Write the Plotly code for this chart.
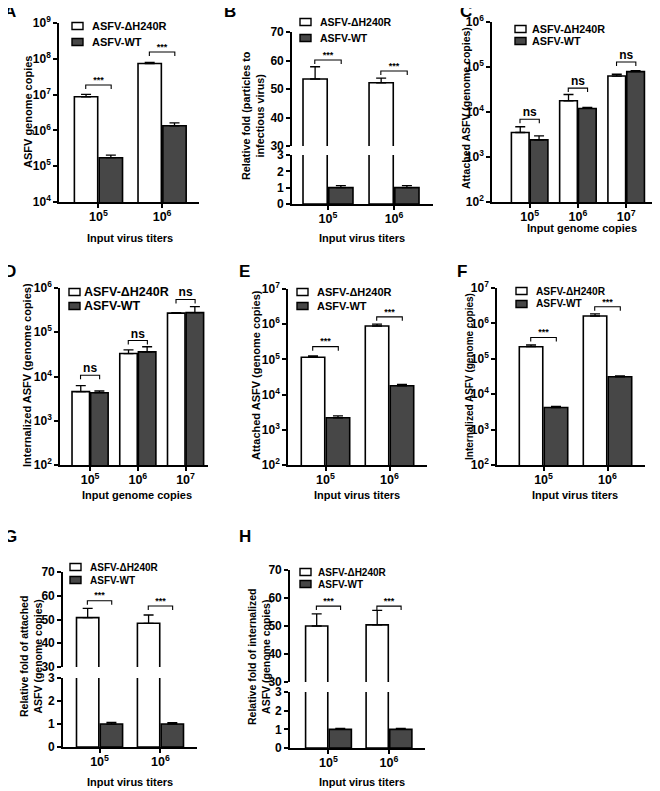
import math
import plotly.graph_objects as go

W, H = 660, 791
OFF = 8  # page body margin in front of the figure

SERIES = ["ASFV-ΔH240R", "ASFV-WT"]
TITERS_2 = ["10<sup>5</sup>", "10<sup>6</sup>"]
TITERS_3 = ["10<sup>5</sup>", "10<sup>6</sup>", "10<sup>7</sup>"]

# A  ASFV genome copies
A_MUT, A_MUT_TOP = [8.7e6, 7.4e7], [1.02e7, 7.9e7]
A_WT, A_WT_TOP = [1.73e5, 1.35e6], [2.04e5, 1.62e6]
A_SIG_Y, A_SIG = [1.86e7, 1.55e8], ["***", "***"]

# B  relative fold, particles to infectious virus
B_MUT, B_MUT_TOP = [53.5, 52.2], [57.8, 53.8]
B_WT, B_WT_TOP = [1.0, 1.0], [1.13, 1.13]
B_SIG_Y, B_SIG = [60.2, 56.3], ["***", "***"]

# C  attached ASFV, input genome copies
C_MUT, C_MUT_TOP = [3.5e3, 1.78e4, 6.3e4], [4.7e3, 2.45e4, 6.9e4]
C_WT, C_WT_TOP = [2.4e3, 1.2e4, 7.9e4], [2.95e3, 1.26e4, 8.3e4]
C_SIG_Y, C_SIG = [6.9e3, 3.4e4, 1.29e5], ["ns", "ns", "ns"]

# D  internalized ASFV, input genome copies
D_MUT, D_MUT_TOP = [4.55e3, 3.3e4, 2.7e5], [6.2e3, 4.0e4, 2.78e5]
D_WT, D_WT_TOP = [4.3e3, 3.6e4, 2.78e5], [4.7e3, 4.7e4, 3.8e5]
D_SIG_Y, D_SIG = [1.07e4, 6.5e4, 5.5e5], ["ns", "ns", "ns"]

# E  attached ASFV, input virus titers
E_MUT, E_MUT_TOP = [1.15e5, 8.9e5], [1.26e5, 1.0e6]
E_WT, E_WT_TOP = [2.2e3, 1.78e4], [2.5e3, 1.94e4]
E_SIG_Y, E_SIG = [2.3e5, 1.62e6], ["***", "***"]

# F  internalized ASFV, input virus titers
F_MUT, F_MUT_TOP = [2.2e5, 1.62e6], [2.45e5, 1.85e6]
F_WT, F_WT_TOP = [4.2e3, 3.1e4], [4.5e3, 3.3e4]
F_SIG_Y, F_SIG = [4.0e5, 2.95e6], ["***", "***"]

# G  relative fold of attached ASFV
G_MUT, G_MUT_TOP = [50.8, 48.4], [54.7, 51.9]
G_WT, G_WT_TOP = [1.0, 1.0], [1.07, 1.06]
G_SIG_Y, G_SIG = [57.9, 55.7], ["***", "***"]

# H  relative fold of internalized ASFV
H_MUT, H_MUT_TOP = [50.0, 50.4], [54.3, 55.6]
H_WT, H_WT_TOP = [1.0, 1.0], [1.05, 1.05]
H_SIG_Y, H_SIG = [57.1, 57.1], ["***", "***"]

FONT = "Liberation Sans, Arial, sans-serif"
DARK = "#474747"
LW = 1.6

# panel geometry in page pixels; leg = (swatch left, row1 y, row2 y, text x, font size)
PANELS = [
    dict(key="A", cats=TITERS_2, mut=A_MUT, mut_top=A_MUT_TOP, wt=A_WT, wt_top=A_WT_TOP,
         sig_y=A_SIG_Y, sig=A_SIG, xpx=(59, 199), xr=(-0.62, 1.58),
         parts=[dict(ypx=(23, 202), log=True, yr=(4, 9))],
         ytitle="ASFV genome copies", ytpos=(28, 112, 11),
         xtitle="Input virus titers", xtpos=(130, 238),
         letter=(2, 11), leg=(72, 26, 42, 90, 11)),
    dict(key="B", cats=TITERS_2, mut=B_MUT, mut_top=B_MUT_TOP, wt=B_WT, wt_top=B_WT_TOP,
         sig_y=B_SIG_Y, sig=B_SIG, xpx=(292, 433), xr=(-0.545, 1.59),
         parts=[dict(ypx=(155, 204), log=False, yr=(0, 3), ticks=[0, 1, 2, 3]),
                dict(ypx=(32, 146), log=False, yr=(30, 70), ticks=[30, 40, 50, 60, 70])],
         ytitle="Relative fold (particles to<br>infectious virus)", ytpos=(253, 116, 10.8),
         xtitle="Input virus titers", xtpos=(362, 238),
         letter=(222, 11), leg=(300, 22, 38, 318, 10.5)),
    dict(key="C", cats=TITERS_3, mut=C_MUT, mut_top=C_MUT_TOP, wt=C_WT, wt_top=C_WT_TOP,
         sig_y=C_SIG_Y, sig=C_SIG, xpx=(492, 659), xr=(-0.78, 2.68),
         parts=[dict(ypx=(22, 202), log=True, yr=(2, 6))],
         ytitle="Attached ASFV (genome copies)", ytpos=(466, 108, 10.5),
         xtitle="Input genome copies", xtpos=(582, 228),
         letter=(458, 11), leg=(515, 29, 41, 530, 10.8)),
    dict(key="D", cats=TITERS_3, mut=D_MUT, mut_top=D_MUT_TOP, wt=D_WT, wt_top=D_WT_TOP,
         sig_y=D_SIG_Y, sig=D_SIG, xpx=(60, 208), xr=(-0.63, 2.47),
         parts=[dict(ypx=(288, 465), log=True, yr=(2, 6))],
         ytitle="Internalized ASFV (genome copies)", ytpos=(27, 375, 11),
         xtitle="Input genome copies", xtpos=(137, 495),
         letter=(2, 271), leg=(69, 292, 306, 82, 12.5)),
    dict(key="E", cats=TITERS_2, mut=E_MUT, mut_top=E_MUT_TOP, wt=E_WT, wt_top=E_WT_TOP,
         sig_y=E_SIG_Y, sig=E_SIG, xpx=(288, 427), xr=(-0.586, 1.586),
         parts=[dict(ypx=(289, 465), log=True, yr=(2, 7))],
         ytitle="Attached ASFV (genome copies)", ytpos=(256, 375, 11),
         xtitle="Input virus titers", xtpos=(357, 495),
         letter=(237, 271), leg=(297, 292, 306, 315, 11)),
    dict(key="F", cats=TITERS_2, mut=F_MUT, mut_top=F_MUT_TOP, wt=F_WT, wt_top=F_WT_TOP,
         sig_y=F_SIG_Y, sig=F_SIG, xpx=(497, 645), xr=(-0.727, 1.586),
         parts=[dict(ypx=(288, 465), log=True, yr=(2, 7))],
         ytitle="Internalized ASFV (genome copies)", ytpos=(469, 377, 10),
         xtitle="Input virus titers", xtpos=(575, 495),
         letter=(455, 271), leg=(516, 291, 304, 534, 10.2)),
    dict(key="G", cats=TITERS_2, mut=G_MUT, mut_top=G_MUT_TOP, wt=G_WT, wt_top=G_WT_TOP,
         sig_y=G_SIG_Y, sig=G_SIG, xpx=(63, 197), xr=(-0.6, 1.6),
         parts=[dict(ypx=(678, 747), log=False, yr=(0, 3), ticks=[0, 1, 2, 3]),
                dict(ypx=(572, 667), log=False, yr=(30, 70), ticks=[30, 40, 50, 60, 70])],
         ytitle="Relative fold of attached<br>ASFV (genome copies)", ytpos=(31, 657, 10.5),
         xtitle="Input virus titers", xtpos=(130, 782),
         letter=(2, 536), leg=(70, 567, 580, 88, 10)),
    dict(key="H", cats=TITERS_2, mut=H_MUT, mut_top=H_MUT_TOP, wt=H_WT, wt_top=H_WT_TOP,
         sig_y=H_SIG_Y, sig=H_SIG, xpx=(290, 425), xr=(-0.636, 1.595),
         parts=[dict(ypx=(692, 748), log=False, yr=(0, 3), ticks=[0, 1, 2, 3]),
                dict(ypx=(570, 682), log=False, yr=(30, 70), ticks=[30, 40, 50, 60, 70])],
         ytitle="Relative fold of internalized<br>ASFV (genome copies)", ytpos=(259, 657, 10.5),
         xtitle="Input virus titers", xtpos=(362, 782),
         letter=(237, 536), leg=(300, 572, 584, 316, 10)),
]

HALF = 0.2  # bracket half-span around a group centre (x units)
LEG_PX = 4  # bracket leg length in pixels

FW, FH = W - OFF, H - OFF


def fx(px):
    return (px - OFF) / FW


def fy(py):
    return 1 - (py - OFF) / FH


def bold(size):
    return dict(family=FONT, size=size, color="black", weight="bold")


fig = go.Figure()
layout = {}
annotations = []
shapes = []
n = 0

for p in PANELS:
    xs = list(range(len(p["cats"])))
    for si, part in enumerate(p["parts"]):
        n += 1
        sfx = "" if n == 1 else str(n)
        bottom = si == 0
        ytop, ybot = part["ypx"]
        xa = dict(domain=[fx(p["xpx"][0]), fx(p["xpx"][1])], range=list(p["xr"]),
                  anchor="y" + sfx, showgrid=False, zeroline=False, fixedrange=True,
                  automargin=False)
        if bottom:
            xa.update(showline=True, linecolor="black", linewidth=LW, ticks="outside",
                      ticklen=4, tickwidth=LW, tickcolor="black", ticklabelstandoff=-2,
                      tickvals=xs, ticktext=p["cats"], tickfont=bold(12.5))
        else:
            xa.update(visible=False)
        ya = dict(domain=[fy(ybot), fy(ytop)], anchor="x" + sfx, range=list(part["yr"]),
                  showgrid=False, zeroline=False, showline=True, linecolor="black",
                  linewidth=LW, ticks="outside", ticklen=4, tickwidth=LW, tickcolor="black",
                  tickfont=bold(12), fixedrange=True, automargin=False)
        if part["log"]:
            lo, hi = part["yr"]
            ya.update(type="log", tickvals=[10 ** k for k in range(lo, hi + 1)],
                      ticktext=[f"10<sup>{k}</sup>" for k in range(lo, hi + 1)])
        else:
            ya.update(tickvals=part["ticks"], ticktext=[str(t) for t in part["ticks"]])
        layout["xaxis" + sfx] = xa
        layout["yaxis" + sfx] = ya

        for name, vals, tops, fill in ((SERIES[0], p["mut"], p["mut_top"], "white"),
                                        (SERIES[1], p["wt"], p["wt_top"], DARK)):
            fig.add_trace(go.Bar(
                x=xs, y=vals, name=name, xaxis="x" + sfx, yaxis="y" + sfx,
                marker=dict(color=fill, line=dict(color="black", width=LW)),
                error_y=dict(type="data", symmetric=False,
                             array=[t - v for t, v in zip(tops, vals)],
                             arrayminus=[0] * len(vals),
                             color="black", thickness=1.3, width=5),
                showlegend=False,
            ))

        # significance brackets live on the top segment
        if si == len(p["parts"]) - 1:
            lo, hi = part["yr"]
            per_px = (hi - lo) / (ybot - ytop)
            for g, (yb, lab) in enumerate(zip(p["sig_y"], p["sig"])):
                if part["log"]:
                    foot = 10 ** (math.log10(yb) - LEG_PX * per_px)
                else:
                    foot = yb - LEG_PX * per_px
                fig.add_trace(go.Scatter(
                    x=[g - HALF, g - HALF, g + HALF, g + HALF], y=[foot, yb, yb, foot],
                    mode="lines", line=dict(color="black", width=1.1),
                    xaxis="x" + sfx, yaxis="y" + sfx, showlegend=False, hoverinfo="skip",
                ))
                small = lab == "***"
                fig.add_trace(go.Scatter(
                    x=[g], y=[yb], mode="text", text=[lab], textposition="top center",
                    textfont=bold(9 if small else 12),
                    xaxis="x" + sfx, yaxis="y" + sfx, showlegend=False, hoverinfo="skip",
                ))

    # legend: open / filled swatch + label
    sx, r1, r2, tx, fs = p["leg"]
    for row_y, name, fill in ((r1, SERIES[0], "white"), (r2, SERIES[1], DARK)):
        shapes.append(dict(type="rect", xref="paper", yref="paper",
                           x0=fx(sx), x1=fx(sx + 11), y0=fy(row_y + 3.5), y1=fy(row_y - 3.5),
                           fillcolor=fill, line=dict(color="black", width=1.4)))
        annotations.append(dict(text=name, x=fx(tx), y=fy(row_y), xref="paper", yref="paper",
                                showarrow=False, xanchor="left", yanchor="middle",
                                font=bold(fs)))

    tx_, ty_, tfs = p["ytpos"]
    annotations.append(dict(
        text=p["ytitle"], x=fx(tx_), y=fy(ty_), xref="paper", yref="paper",
        textangle=-90, showarrow=False, xanchor="center", yanchor="middle", font=bold(tfs),
    ))
    annotations.append(dict(
        text=p["xtitle"], x=fx(p["xtpos"][0]), y=fy(p["xtpos"][1]), xref="paper", yref="paper",
        showarrow=False, xanchor="center", yanchor="middle", font=bold(11),
    ))
    annotations.append(dict(
        text=p["key"], x=fx(p["letter"][0]), y=fy(p["letter"][1]), xref="paper", yref="paper",
        showarrow=False, xanchor="left", yanchor="middle", font=bold(17),
    ))

fig.update_layout(
    width=FW, height=FH, margin=dict(l=0, r=0, t=0, b=0, autoexpand=False),
    paper_bgcolor="white", plot_bgcolor="white", showlegend=False,
    barmode="group", bargap=0.22, bargroupgap=0.06,
    font=dict(family=FONT, color="black"),
    annotations=annotations, shapes=shapes,
    **layout,
)

fig.write_html("out.html")
